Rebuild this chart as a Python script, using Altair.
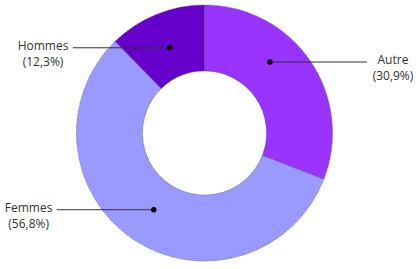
import math
import altair as alt
import pandas as pd

# ---- data ----
categories = ["Autre", "Femmes", "Hommes"]
values = [30.9, 56.8, 12.3]
colors = ["#9933ff", "#9999ff", "#6600cc"]

# ---- layout ----
W, H = 419, 269
PAD_R, PAD_B = 10, 3          # shifts the view centre to the pie centre
PW, PH = W - PAD_R, H - PAD_B
R_OUT, R_IN = 128, 62
R_DOT = 92
LEADER = 97
GAP = 6
FS = 12
angle_nudge = {"Autre": -13.0}
radius_nudge = {"Autre": 4.5}

char_w = {"m": 9.3, "H": 8.0, "o": 6.3, "e": 5.8, "s": 4.9, "F": 5.5, "A": 7.0,
          "u": 6.3, "t": 3.8, "r": 4.3, "(": 3.3, ")": 3.3, ",": 2.7, "%": 9.0}


def text_width(s):
    return sum(char_w.get(c, 6.2) for c in s) * FS / 11


total = sum(values)
rows = []
cum = 0.0
for i, (cat, v) in enumerate(zip(categories, values)):
    mid = (cum + v / 2) / total * 360
    cum += v
    a = math.radians(mid + angle_nudge.get(cat, 0.0))
    r = R_DOT + radius_nudge.get(cat, 0.0)
    dx = r * math.sin(a)
    dy = r * math.cos(a)
    side = 1 if dx > 0 else -1
    lx = dx + side * LEADER
    pct = "(" + f"{v:.1f}".replace(".", ",") + "%)"
    w = max(text_width(cat), text_width(pct))
    tx = lx + side * (GAP + w / 2)
    rows.append(dict(cat=cat, value=v, order=i, dx=dx, dy=dy, lx=lx, tx=tx, pct=pct))

df = pd.DataFrame(rows)

xs = alt.Scale(domain=[-PW / 2, PW / 2], nice=False, zero=False)
ys = alt.Scale(domain=[-PH / 2, PH / 2], nice=False, zero=False)

base = alt.Chart(df)

arc = base.mark_arc(
    outerRadius=R_OUT, innerRadius=R_IN,
    stroke="#555", strokeWidth=0.8, strokeDash=[1, 1]
).encode(
    theta=alt.Theta("value:Q", stack=True),
    color=alt.Color("cat:N", scale=alt.Scale(domain=categories, range=colors), legend=None),
    order=alt.Order("order:Q"),
)

rules = base.mark_rule(color="#333", strokeWidth=1).encode(
    x=alt.X("dx:Q", scale=xs, axis=None),
    x2="lx:Q",
    y=alt.Y("dy:Q", scale=ys, axis=None),
)

dots = base.mark_circle(size=30, color="black", opacity=1).encode(
    x=alt.X("dx:Q", scale=xs, axis=None),
    y=alt.Y("dy:Q", scale=ys, axis=None),
)

names = base.mark_text(font="Open Sans", fontSize=FS, color="#333",
                       align="center", baseline="middle", dy=-2).encode(
    x=alt.X("tx:Q", scale=xs, axis=None),
    y=alt.Y("dy:Q", scale=ys, axis=None),
    text="cat:N",
)

pcts = base.mark_text(font="Open Sans", fontSize=FS, color="#333",
                      align="center", baseline="middle", dy=14).encode(
    x=alt.X("tx:Q", scale=xs, axis=None),
    y=alt.Y("dy:Q", scale=ys, axis=None),
    text="pct:N",
)

chart = alt.layer(arc, rules, dots, names, pcts).properties(
    width=PW, height=PH,
    autosize=alt.AutoSizeParams(type="none"),
    padding={"left": 0, "top": 0, "right": PAD_R, "bottom": PAD_B},
    background="white",
).configure_view(stroke=None)

chart.save("out.html", embed_options={"renderer": "svg", "actions": False})
